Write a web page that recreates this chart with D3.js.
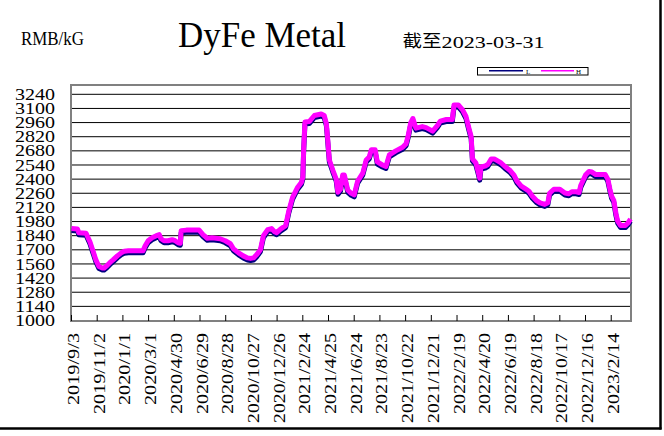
<!DOCTYPE html>
<html>
<head>
<meta charset="utf-8">
<script src="https://cdn.jsdelivr.net/npm/d3@7"></script>
<style>
  html, body { margin: 0; padding: 0; background: #fff; }
  svg { display: block; }
</style>
</head>
<body>
<svg id="chart" width="664" height="436"></svg>
<script>
const dates = ["2019-09-03","2019-09-17","2019-09-20","2019-10-07","2019-10-16","2019-10-23","2019-10-30","2019-11-06","2019-11-14","2019-11-18","2019-11-25","2019-12-02","2019-12-09","2019-12-19","2019-12-28","2020-01-04","2020-01-14","2020-02-17","2020-02-22","2020-02-29","2020-03-09","2020-03-19","2020-03-26","2020-03-30","2020-04-06","2020-04-15","2020-04-25","2020-05-02","2020-05-09","2020-05-14","2020-05-16","2020-05-28","2020-06-27","2020-07-06","2020-07-16","2020-07-27","2020-08-06","2020-08-15","2020-08-27","2020-09-08","2020-09-15","2020-09-27","2020-10-08","2020-10-18","2020-10-25","2020-11-01","2020-11-08","2020-11-17","2020-11-24","2020-12-04","2020-12-13","2020-12-20","2020-12-25","2021-01-03","2021-01-15","2021-01-22","2021-01-31","2021-02-12","2021-02-21","2021-02-24","2021-02-26","2021-03-01","2021-03-11","2021-03-23","2021-04-08","2021-04-15","2021-04-20","2021-04-23","2021-04-27","2021-05-05","2021-05-13","2021-05-17","2021-05-23","2021-05-28","2021-06-01","2021-06-09","2021-06-17","2021-06-24","2021-07-02","2021-07-14","2021-07-22","2021-07-29","2021-08-03","2021-08-12","2021-08-17","2021-08-29","2021-09-06","2021-09-14","2021-09-29","2021-10-15","2021-10-23","2021-10-28","2021-11-03","2021-11-08","2021-11-15","2021-11-30","2021-12-09","2021-12-24","2022-01-04","2022-01-11","2022-01-25","2022-02-08","2022-02-12","2022-02-22","2022-03-04","2022-03-12","2022-03-19","2022-03-24","2022-03-27","2022-04-04","2022-04-09","2022-04-13","2022-04-16","2022-04-26","2022-05-02","2022-05-10","2022-05-17","2022-05-23","2022-06-02","2022-06-11","2022-06-23","2022-07-02","2022-07-09","2022-07-19","2022-07-30","2022-08-06","2022-08-14","2022-08-23","2022-09-01","2022-09-12","2022-09-19","2022-09-23","2022-10-03","2022-10-17","2022-10-29","2022-11-07","2022-11-14","2022-11-24","2022-12-01","2022-12-05","2022-12-16","2022-12-24","2022-12-31","2023-01-09","2023-01-31","2023-02-06","2023-02-11","2023-02-15","2023-02-20","2023-02-25","2023-03-01","2023-03-08","2023-03-19","2023-03-25","2023-03-31"];

const high = [1910,1905,1870,1865,1780,1690,1600,1535,1520,1520,1545,1575,1600,1640,1670,1685,1690,1690,1740,1790,1820,1840,1850,1810,1790,1790,1800,1790,1770,1765,1890,1895,1895,1850,1815,1820,1815,1810,1790,1760,1710,1670,1640,1620,1615,1620,1650,1700,1840,1900,1910,1880,1870,1905,1940,2080,2220,2320,2370,2420,2700,2965,2970,3030,3045,3030,2950,2800,2590,2490,2400,2270,2300,2440,2440,2290,2260,2245,2380,2460,2590,2620,2690,2690,2570,2540,2525,2640,2680,2715,2750,2830,2960,3000,2905,2920,2910,2875,2930,2975,2990,2990,3135,3135,3085,3020,2900,2820,2600,2560,2480,2410,2520,2530,2545,2600,2600,2585,2560,2525,2485,2440,2380,2330,2300,2280,2230,2190,2165,2150,2165,2260,2300,2300,2262,2255,2275,2275,2268,2340,2440,2475,2470,2445,2445,2400,2300,2230,2190,2060,1985,1940,1940,1965,2005];

const low = [1890,1885,1850,1845,1760,1670,1580,1515,1500,1500,1525,1555,1580,1620,1650,1665,1670,1670,1720,1770,1800,1820,1830,1790,1770,1770,1780,1770,1750,1745,1870,1875,1875,1830,1795,1800,1795,1790,1770,1740,1690,1650,1620,1600,1595,1600,1630,1680,1820,1880,1890,1860,1850,1885,1920,2060,2200,2300,2350,2400,2680,2945,2950,3010,3025,3010,2930,2780,2570,2470,2380,2250,2280,2420,2420,2270,2240,2225,2360,2440,2570,2600,2670,2670,2550,2520,2505,2620,2660,2695,2730,2810,2940,2980,2885,2900,2890,2855,2910,2955,2970,2970,3115,3115,3065,3000,2880,2800,2580,2540,2460,2390,2500,2510,2525,2580,2580,2565,2540,2505,2465,2420,2360,2310,2280,2260,2210,2170,2145,2130,2145,2240,2280,2280,2242,2235,2255,2255,2248,2320,2420,2455,2450,2425,2425,2380,2280,2210,2170,2040,1965,1920,1920,1945,1985];

const yTicks = [1000,1140,1280,1420,1560,1700,1840,1980,2120,2260,2400,2540,2680,2820,2960,3100,3240];
const xTickLabels = ["2019/9/3","2019/11/2","2020/1/1","2020/3/1","2020/4/30","2020/6/29","2020/8/28","2020/10/27","2020/12/26","2021/2/24","2021/4/25","2021/6/24","2021/8/23","2021/10/22","2021/12/21","2022/2/19","2022/4/20","2022/6/19","2022/8/18","2022/10/17","2022/12/16","2023/2/14"];
const seriesNames = ["L","H"];
const seriesColors = ["#000080","#FF00FF"];

(function () {
const parse = d3.timeParse("%Y-%m-%d");
const parseTick = d3.timeParse("%Y/%m/%d");
const svg = d3.select("#chart");

const pLeft = 71, pRight = 631, pTop = 85, pBottom = 321;
const x = d3.scaleTime()
  .domain([parse("2019-09-03"), parse("2023-03-31")])
  .range([71.5, 630.5]);
const y = d3.scaleLinear().domain([1000, 3240]).range([320.5, 94.3]);

const serif = "'Liberation Serif', 'Times New Roman', serif";

// gridlines
svg.append("g").selectAll("line")
  .data(yTicks.filter(v => v !== 1000))
  .join("line")
  .attr("x1", pLeft).attr("x2", pRight)
  .attr("y1", d => y(d)).attr("y2", d => y(d))
  .attr("stroke", "#000").attr("stroke-width", 1);

// plot border
svg.append("rect")
  .attr("x", pLeft).attr("y", pTop)
  .attr("width", pRight - pLeft).attr("height", pBottom - pTop)
  .attr("fill", "none").attr("stroke", "#808080").attr("stroke-width", 2);

// x ticks (inside)
const tickDates = xTickLabels.map(s => parseTick(s));
svg.append("g").selectAll("line")
  .data(tickDates)
  .join("line")
  .attr("x1", d => x(d)).attr("x2", d => x(d))
  .attr("y1", pBottom).attr("y2", pBottom - 6)
  .attr("stroke", "#000").attr("stroke-width", 1);

// y labels
svg.append("g").selectAll("text")
  .data(yTicks)
  .join("text")
  .attr("x", 55).attr("y", d => y(d) + 5.6)
  .attr("text-anchor", "end")
  .attr("font-family", serif).attr("font-size", 16)
  .attr("textLength", d => String(d).length * 10)
  .attr("lengthAdjust", "spacingAndGlyphs")
  .attr("fill", "#000")
  .text(d => d);

// x labels
svg.append("g").selectAll("text")
  .data(xTickLabels)
  .join("text")
  .attr("transform", (d, i) => `translate(${x(tickDates[i]) + 7.5},333) rotate(-90)`)
  .attr("text-anchor", "end")
  .attr("font-family", serif).attr("font-size", 16)
  .attr("textLength", d => d.length * 9)
  .attr("lengthAdjust", "spacingAndGlyphs")
  .attr("fill", "#000")
  .text(d => d);

// lines
const pts = dates.map((d, i) => ({ date: parse(d), low: low[i], high: high[i] }));
const lineL = d3.line().x(d => x(d.date)).y(d => y(d.low));
const lineH = d3.line().x(d => x(d.date)).y(d => y(d.high));
svg.append("path").datum(pts).attr("d", lineL)
  .attr("fill", "none").attr("stroke", seriesColors[0]).attr("stroke-width", 5)
  .attr("stroke-linejoin", "round");
svg.append("path").datum(pts).attr("d", lineH)
  .attr("fill", "none").attr("stroke", seriesColors[1]).attr("stroke-width", 5)
  .attr("stroke-linejoin", "round");

// titles
svg.append("text").attr("x", 21).attr("y", 45)
  .attr("font-family", serif).attr("font-size", 19)
  .attr("textLength", 63).attr("lengthAdjust", "spacingAndGlyphs")
  .text("RMB/kG");
svg.append("text").attr("x", 178).attr("y", 46.5)
  .attr("font-family", serif).attr("font-size", 35)
  .attr("textLength", 168).attr("lengthAdjust", "spacingAndGlyphs")
  .text("DyFe Metal");
svg.append("text").attr("x", 402.5).attr("y", 47)
  .attr("font-family", "'Noto Sans CJK SC', sans-serif").attr("font-size", 17)
  .attr("textLength", 39).attr("lengthAdjust", "spacingAndGlyphs")
  .text("截至");
svg.append("text").attr("x", 441.6).attr("y", 47.5)
  .attr("font-family", serif).attr("font-size", 16)
  .attr("textLength", 103).attr("lengthAdjust", "spacingAndGlyphs")
  .text("2023-03-31");

// legend
const lg = svg.append("g");
lg.append("rect").attr("x", 477.5).attr("y", 67.5).attr("width", 110.5).attr("height", 7.5)
  .attr("fill", "#fff").attr("stroke", "#000").attr("stroke-width", 1);
const legendItems = [
  { name: seriesNames[0], color: seriesColors[0], x1: 489, x2: 523, tx: 526 },
  { name: seriesNames[1], color: seriesColors[1], x1: 541, x2: 574, tx: 576 }
];
legendItems.forEach(it => {
  lg.append("line").attr("x1", it.x1).attr("x2", it.x2).attr("y1", 70.8).attr("y2", 70.8)
    .attr("stroke", it.color).attr("stroke-width", 1.5);
  lg.append("text").attr("x", it.tx).attr("y", 73.5)
    .attr("font-family", serif).attr("font-size", 7)
    .text(it.name);
});

// outer frame (right and bottom)
svg.append("line").attr("x1", 660.5).attr("x2", 660.5).attr("y1", 0).attr("y2", 429.5)
  .attr("stroke", "#000").attr("stroke-width", 2.5);
svg.append("line").attr("x1", 0).attr("x2", 661.5).attr("y1", 428.5).attr("y2", 428.5)
  .attr("stroke", "#000").attr("stroke-width", 2.5);
})();
</script>
</body>
</html>
